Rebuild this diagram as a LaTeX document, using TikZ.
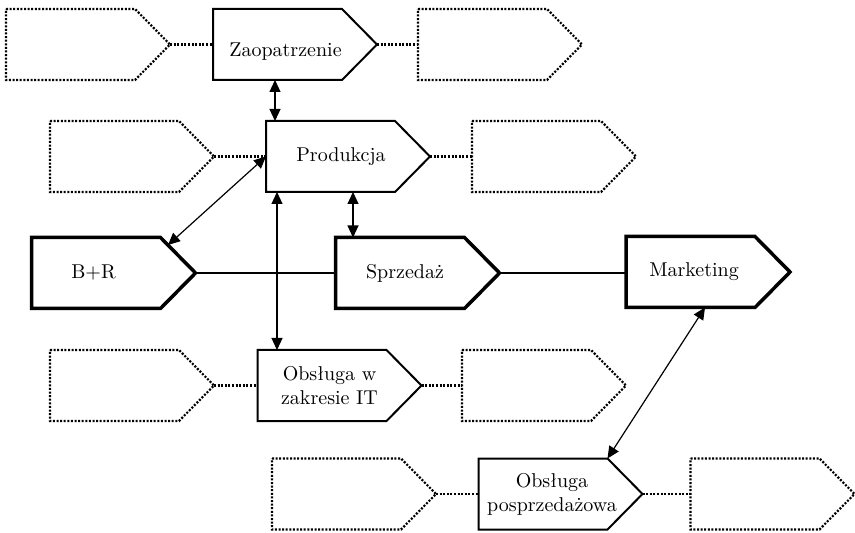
\documentclass[tikz,border=0pt]{standalone}
\usetikzlibrary{arrows.meta}

\tikzset{
  pbox/.style={minimum width=82pt, minimum height=35.5pt, inner sep=0pt, outer sep=0pt},
  thinbox/.style={line width=1pt},
  keybox/.style={line width=1.75pt},
  dotbox/.style={line width=1.1pt, dash pattern=on 1pt off 0.8pt},
  txt/.style={font=\fontsize{10pt}{12pt}\selectfont, align=center},
  link/.style={line width=0.6pt},
  twoway/.style={line width=0.6pt, {Triangle[length=6pt,width=5.5pt]}-{Triangle[length=6pt,width=5.5pt]}},
}

\begin{document}
\begin{tikzpicture}[x=0.5pt,y=-0.5pt]
\useasboundingbox (0,0) rectangle (855,533);

% first row
\node[pbox] (zl) at (88,44.5) {};
\node[pbox, label={[txt,xshift=-4.75pt,yshift=-3.5pt]center:Zaopatrzenie}] (zao) at (295,44.5) {};
\node[pbox] (zr) at (500,44.5) {};

% second row
\node[pbox] (pl) at (132,156.5) {};
\node[pbox, label={[txt,xshift=-3.5pt]center:Produkcja}] (prod) at (348,156.5) {};
\node[pbox] (pr) at (554,156.5) {};

% main row
\node[pbox, label={[txt,xshift=-10pt]center:B+R}] (br) at (113.5,273) {};
\node[pbox, label={[txt,xshift=-6.25pt]center:Sprzedaż}] (sp) at (417.5,273) {};
\node[pbox, label={[txt,xshift=-7pt]center:Marketing}] (mk) at (708,272) {};

% lower rows
\node[pbox] (il) at (132,385.5) {};
\node[pbox, label={[txt,xshift=-5pt]center:{Obsługa w\\zakresie IT}}] (it) at (339.5,385.5) {};
\node[pbox] (ir) at (544,385.5) {};

\node[pbox] (pol) at (354,494) {};
\node[pbox, label={[txt,xshift=-4.25pt]center:{Obsługa\\posprzedażowa}}] (pos) at (560.5,494) {};
\node[pbox] (por) at (772.5,494) {};

% outlines
\foreach \n/\s in {zl/dotbox,zao/thinbox,zr/dotbox,pl/dotbox,prod/thinbox,pr/dotbox,
                   br/keybox,sp/keybox,mk/keybox,il/dotbox,it/thinbox,ir/dotbox,
                   pol/dotbox,pos/thinbox,por/dotbox}
  \draw[\s] (\n.north west) -- ([xshift=-17.5pt]\n.north east) -- (\n.east)
        -- ([xshift=-17.5pt]\n.south east) -- (\n.south west) -- cycle;

% dotted links
\foreach \a/\b in {zl/zao,zao/zr,pl/prod,prod/pr,il/it,it/ir,pol/pos,pos/por}
  \draw[dotbox] (\a.east) -- (\b.west);

% solid links
\draw[link] (br.east) -- (sp.west);
\draw[link] (sp.east) -- (sp.east -| mk.west);

% arrows
\coordinate (a1) at ([xshift=-10pt]zao.south);
\draw[twoway] (a1) -- (a1 |- prod.north);
\coordinate (a2) at ([xshift=2.5pt]prod.south);
\draw[twoway] (a2) -- (a2 |- sp.north);
\coordinate (a3) at ([xshift=-35.5pt]prod.south);
\draw[twoway] (a3) -- (a3 |- it.north);
\draw[twoway] (prod.west) -- ([shift={(54.5,-28)}]br.center);
\draw[twoway] ([xshift=-1.5pt]mk.south) -- ([xshift=-17.5pt]pos.north east);
\end{tikzpicture}
\end{document}
